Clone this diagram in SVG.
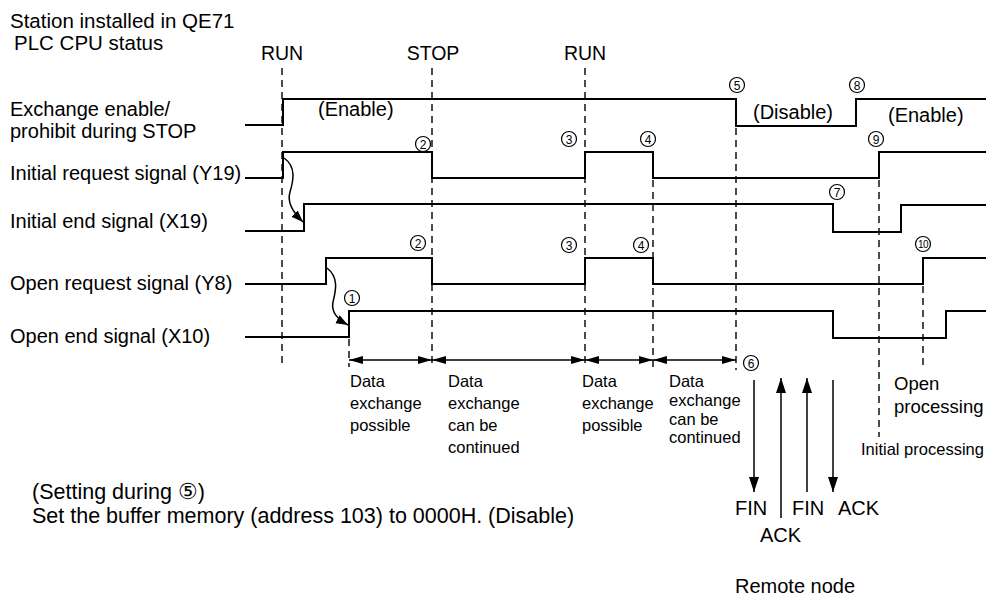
<svg xmlns="http://www.w3.org/2000/svg" width="987" height="599" viewBox="0 0 987 599">
<style>
text{font-family:"Liberation Sans",Arial,sans-serif;fill:#000}
.lbl{font-size:20px}
.note{font-size:21.5px}
.top{font-size:19.5px;text-anchor:middle}
.st{font-size:20.5px}
.sm{font-size:16.5px}
.big{font-size:20px}
.op{font-size:18.5px}
.num text{font-size:12px;text-anchor:middle}
.num circle{fill:#fff;stroke:#000;stroke-width:1.2}
.sig{fill:none;stroke:#000;stroke-width:2}
.dash{fill:none;stroke:#000;stroke-width:1.4;stroke-dasharray:7 5}
.arr{fill:none;stroke:#000;stroke-width:1.5}
</style>
<defs>
<marker id="hh" markerUnits="userSpaceOnUse" markerWidth="16" markerHeight="10" refX="14" refY="4" orient="auto-start-reverse">
<path d="M0,0 L14,4 L0,8 z" fill="#000"/>
</marker>
<marker id="vh" markerUnits="userSpaceOnUse" markerWidth="18" markerHeight="12" refX="15" refY="5" orient="auto">
<path d="M0,0 L15,5 L0,10 z" fill="#000"/>
</marker>
<marker id="ch" markerUnits="userSpaceOnUse" markerWidth="14" markerHeight="10" refX="12" refY="4.5" orient="auto">
<path d="M0,0 L12,4.5 L0,9 z" fill="#000"/>
</marker>
</defs>

<g id="labels">
<text class="st" x="10" y="28">Station installed in QE71</text>
<text class="st" x="14" y="50">PLC CPU status</text>
<text class="top" x="282" y="60">RUN</text>
<text class="top" x="433" y="60">STOP</text>
<text class="top" x="585" y="60">RUN</text>
<text class="lbl" x="10" y="116">Exchange enable/</text>
<text class="lbl" x="10" y="138">prohibit during STOP</text>
<text class="lbl" x="10" y="180">Initial request signal (Y19)</text>
<text class="lbl" x="10" y="228">Initial end signal (X19)</text>
<text class="lbl" x="10" y="290">Open request signal (Y8)</text>
<text class="lbl" x="10" y="343">Open end signal (X10)</text>
<text class="big" x="318" y="116">(Enable)</text>
<text class="big" x="753" y="119">(Disable)</text>
<text class="big" x="888" y="122">(Enable)</text>
</g>

<g id="dashed-lines">
<path class="dash" d="M282,68 V367"/>
<path class="dash" d="M432,68 V367"/>
<path class="dash" d="M585,68 V367"/>
<path class="dash" d="M653,180 V367"/>
<path class="dash" d="M736,128 V370"/>
<path class="dash" d="M349,339 V367"/>
<path class="dash" d="M879,180 V437"/>
<path class="dash" d="M923,286 V368"/>
</g>

<g id="signals">
<path id="sig-exchange" class="sig" d="M245,125 H283 V99 H736 V126 H856 V99 H986"/>
<path id="sig-y19" class="sig" d="M245,178 H283 V152 H432 V178 H585 V152 H653 V178 H879 V152 H986"/>
<path id="sig-x19" class="sig" d="M245,231 H304 V204 H833 V232 H901 V205 H986"/>
<path id="sig-y8" class="sig" d="M245,284 H326 V258 H432 V284 H585 V258 H653 V284 H923 V258 H986"/>
<path id="sig-x10" class="sig" d="M245,337 H349 V311 H833 V338 H946 V311 H986"/>
</g>

<g id="connectors">
<path class="arr" d="M284,158 C297,167 293,182 290,192 C287,202 292,211 303,222" marker-end="url(#ch)"/>
<path class="arr" d="M327,268 C340,278 335,293 333,302 C331,311 337,319 348,325" marker-end="url(#ch)"/>
<path class="arr" d="M349,360 H432" marker-start="url(#hh)" marker-end="url(#hh)"/>
<path class="arr" d="M432,360 H585" marker-start="url(#hh)" marker-end="url(#hh)"/>
<path class="arr" d="M585,360 H653" marker-start="url(#hh)" marker-end="url(#hh)"/>
<path class="arr" d="M653,360 H736" marker-start="url(#hh)" marker-end="url(#hh)"/>
<path class="arr" d="M754,380 V492" marker-end="url(#vh)"/>
<path class="arr" d="M781,518 V378" marker-end="url(#vh)"/>
<path class="arr" d="M807,492 V378" marker-end="url(#vh)"/>
<path class="arr" d="M833,380 V492" marker-end="url(#vh)"/>
</g>

<g id="numbers" class="num">
<g id="n2a"><circle cx="423" cy="144" r="7.5"/><text x="423" y="148.5">2</text></g>
<g id="n3a"><circle cx="569" cy="139" r="7.5"/><text x="569" y="143.5">3</text></g>
<g id="n4a"><circle cx="648" cy="139" r="7.5"/><text x="648" y="143.5">4</text></g>
<g id="n5"><circle cx="737" cy="85" r="7.5"/><text x="737" y="89.5">5</text></g>
<g id="n8"><circle cx="857" cy="85" r="7.5"/><text x="857" y="89.5">8</text></g>
<g id="n9"><circle cx="876" cy="139" r="7.5"/><text x="876" y="143.5">9</text></g>
<g id="n7"><circle cx="837" cy="192" r="7.5"/><text x="837" y="196.5">7</text></g>
<g id="n2b"><circle cx="418" cy="243" r="7.5"/><text x="418" y="247.5">2</text></g>
<g id="n3b"><circle cx="569" cy="245" r="7.5"/><text x="569" y="249.5">3</text></g>
<g id="n4b"><circle cx="641" cy="245" r="7.5"/><text x="641" y="249.5">4</text></g>
<g id="n1"><circle cx="352" cy="298" r="7.5"/><text x="352" y="302.5">1</text></g>
<g id="n10"><circle cx="923" cy="244" r="7.5"/><text x="923" y="248" style="font-size:10px;letter-spacing:-0.5px">10</text></g>
<g id="n6"><circle cx="751" cy="363" r="7.5"/><text x="751" y="367.5">6</text></g>
</g>

<g id="period-labels">
<text class="sm" x="350"><tspan x="350" y="387">Data</tspan><tspan x="350" y="409">exchange</tspan><tspan x="350" y="431">possible</tspan></text>
<text class="sm" x="448"><tspan x="448" y="387">Data</tspan><tspan x="448" y="409">exchange</tspan><tspan x="448" y="431">can be</tspan><tspan x="448" y="453">continued</tspan></text>
<text class="sm" x="582"><tspan x="582" y="387">Data</tspan><tspan x="582" y="409">exchange</tspan><tspan x="582" y="431">possible</tspan></text>
<text class="sm" x="669"><tspan x="669" y="387">Data</tspan><tspan x="669" y="406">exchange</tspan><tspan x="669" y="425">can be</tspan><tspan x="669" y="443">continued</tspan></text>
<text class="op" x="894"><tspan x="894" y="390">Open</tspan><tspan x="894" y="413">processing</tspan></text>
<text class="sm" x="861" y="455">Initial processing</text>
</g>

<g id="remote">
<text class="big" x="735" y="515">FIN</text>
<text class="big" x="760" y="542">ACK</text>
<text class="big" x="792" y="515">FIN</text>
<text class="big" x="838" y="515">ACK</text>
<text class="big" x="735" y="593">Remote node</text>
</g>

<g id="note">
<text class="note" x="32" y="499">(Setting during ⑤)</text>
<text class="note" x="32" y="523">Set the buffer memory (address 103) to 0000H. (Disable)</text>
</g>
</svg>
